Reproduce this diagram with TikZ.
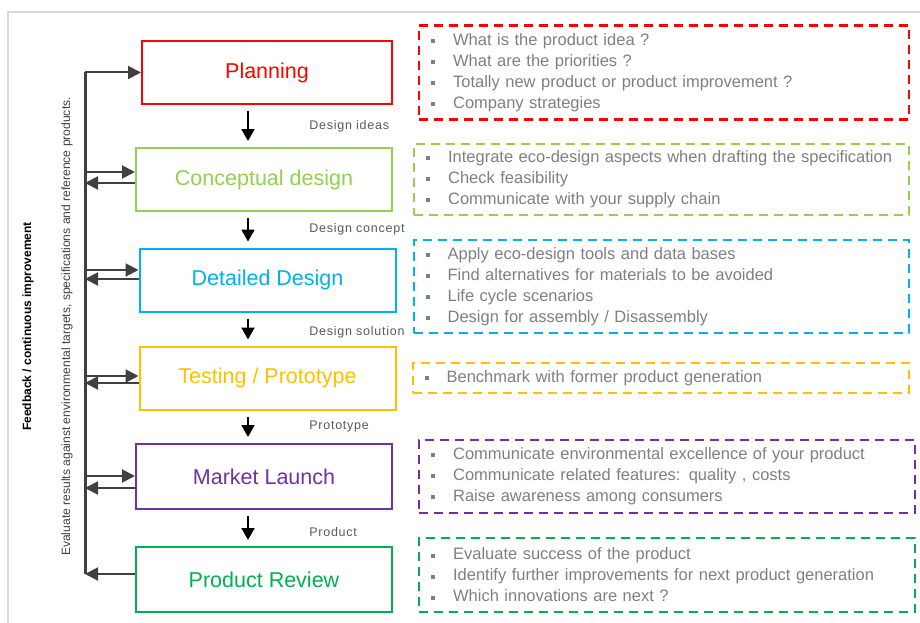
\documentclass[tikz,border=0pt]{standalone}
\usepackage{fontspec}
\setmainfont{Liberation Sans}
\usepackage{tikz}
\usetikzlibrary{positioning, arrows.meta}

\definecolor{planred}{HTML}{FF0000}
\definecolor{conceptgreen}{HTML}{92D050}
\definecolor{detailblue}{HTML}{00B0F0}
\definecolor{testyellow}{HTML}{FFC000}
\definecolor{marketpurple}{HTML}{7030A0}
\definecolor{reviewgreen}{HTML}{00B050}
\definecolor{notegrey}{HTML}{7F7F7F}
\definecolor{labelgrey}{HTML}{595959}
\definecolor{feedgrey}{HTML}{404040}
\definecolor{framegrey}{HTML}{D9D9D9}

\newcommand{\sqbul}{\rule[2.3pt]{4pt}{4pt}\hspace{18pt}}

\tikzstyle{phase} = [rectangle, minimum width=256pt, minimum height=63pt, text centered, line width=2pt, font=\fontsize{21.5}{24}\selectfont]
\tikzstyle{notes} = [rectangle, dashed, dash pattern=on 9pt off 6pt, line width=2.2pt, inner xsep=12pt, inner ysep=0pt, align=left, text=notegrey, font=\fontsize{16.5}{21}\selectfont]
\tikzstyle{flowlabel} = [text=labelgrey, font=\fontsize{12.5}{14}\selectfont\addfontfeature{LetterSpace=6}, anchor=west, xshift=57pt]
\tikzstyle{arrow} = [line width=2pt, ->, >={Triangle[length=12pt,width=13pt]}, shorten <=6pt, shorten >=6pt]
\tikzstyle{feedarrow} = [feedgrey, line width=2pt, ->, >={Triangle[length=13pt,width=13pt]}]

\begin{document}
\begin{tikzpicture}[x=1pt, y=1pt, node distance=100pt]
			\useasboundingbox (0,0) rectangle (920,-623);
			\draw [framegrey, line width=1.5pt] (920,-12) -- (8,-12) -- (8,-623);
			
			% process steps
			\node (plan) [phase, draw=planred, text=planred, minimum width=250pt] at (267,-72.5) {Planning};
			\node (concept) [phase, draw=conceptgreen, text=conceptgreen, below of=plan, yshift=-7pt, xshift=-3pt] {Conceptual design};
			\node (detail) [phase, draw=detailblue, text=detailblue, below of=concept, yshift=-0.5pt, xshift=3.5pt] {Detailed Design};
			\node (test) [phase, draw=testyellow, text=testyellow, below of=detail, yshift=2pt] {Testing / Prototype};
			\node (market) [phase, draw=marketpurple, text=marketpurple, below of=test, yshift=1.5pt, xshift=-3.5pt, minimum height=65pt] {Market Launch};
			\node (review) [phase, draw=reviewgreen, text=reviewgreen, below of=market, yshift=-3pt, minimum height=65pt] {Product Review};
			
			% what to do in each step
			\node (plannotes) [notes, draw=planred, right=25pt of plan, text width=466pt, minimum height=94pt] {\sqbul What is the product idea ?\\ \sqbul What are the priorities ?\\ \sqbul Totally new product or product improvement ?\\ \sqbul Company strategies};
			\node (conceptnotes) [notes, draw=conceptgreen, right=20pt of concept, text width=471pt, minimum height=71pt] {\sqbul Integrate eco-design aspects when drafting the specification\\ \sqbul Check feasibility\\ \sqbul Communicate with your supply chain};
			\node (detailnotes) [notes, draw=detailblue, right=16pt of detail, yshift=-6.5pt, text width=471pt, minimum height=93pt] {\sqbul Apply eco-design tools and data bases\\ \sqbul Find alternatives for materials to be avoided\\ \sqbul Life cycle scenarios\\ \sqbul Design for assembly / Disassembly};
			\node (testnotes) [notes, draw=testyellow, right=15pt of test, text width=472pt, minimum height=30pt] {\sqbul Benchmark with former product generation};
			\node (marketnotes) [notes, draw=marketpurple, right=25pt of market, text width=472pt, minimum height=73pt] {\sqbul Communicate environmental excellence of your product\\ \sqbul Communicate related features: quality , costs\\ \sqbul Raise awareness among consumers};
			\node (reviewnotes) [notes, draw=reviewgreen, right=25pt of review, yshift=4.5pt, text width=472pt, minimum height=74pt] {\sqbul Evaluate success of the product\\ \sqbul Identify further improvements for next product generation\\ \sqbul Which innovations are next ?};
			
			% side texts
			\node (fbtitle) [rotate=90, font=\fontsize{12}{14}\selectfont\bfseries] at (28,-326.5) {Feedback / continuous improvement};
			\node (fbnote) [rotate=90, text=feedgrey, font=\fontsize{12.1}{14}\selectfont] at (67,-326.5) {Evaluate results against environmental targets, specifications and reference products.};
			
			\coordinate (flow) at (248,0);
			\coordinate (fbline) at (85,0);
			
			\draw [arrow] (plan.south -| flow) -- node[flowlabel] {Design ideas} (concept.north -| flow);
			\draw [arrow] (concept.south -| flow) -- node[flowlabel] {Design concept} (detail.north -| flow);
			\draw [arrow] (detail.south -| flow) -- node[flowlabel, yshift=-3pt] {Design solution} (test.north -| flow);
			\draw [arrow] (test.south -| flow) -- node[flowlabel] {Prototype} (market.north -| flow);
			\draw [arrow] (market.south -| flow) -- node[flowlabel, yshift=-4pt] {Product} (review.north -| flow);
			
			% feedback loop
			\draw [feedgrey, line width=3pt] (plan.west -| fbline) -- ([yshift=5.5pt]review.west -| fbline);
			\draw [feedarrow] (plan.west -| fbline) -- (plan.west);
			\draw [feedarrow] ([yshift=7.5pt]concept.west -| fbline) -- ([yshift=7.5pt]concept.west);
			\draw [feedarrow] ([yshift=-3.5pt]concept.west) -- ([yshift=-3.5pt]concept.west -| fbline);
			\draw [feedarrow] ([yshift=10pt]detail.west -| fbline) -- ([yshift=10pt]detail.west);
			\draw [feedarrow] ([yshift=1pt]detail.west) -- ([yshift=1pt]detail.west -| fbline);
			\draw [feedarrow] ([yshift=2pt]test.west -| fbline) -- ([yshift=2pt]test.west);
			\draw [feedarrow] ([yshift=-5pt]test.west) -- ([yshift=-5pt]test.west -| fbline);
			\draw [feedarrow] ([yshift=0.5pt]market.west -| fbline) -- ([yshift=0.5pt]market.west);
			\draw [feedarrow] ([yshift=-11.5pt]market.west) -- ([yshift=-11.5pt]market.west -| fbline);
			\draw [feedarrow] ([yshift=5.5pt]review.west) -- ([yshift=5.5pt]review.west -| fbline);
			
		\end{tikzpicture}
\end{document}
